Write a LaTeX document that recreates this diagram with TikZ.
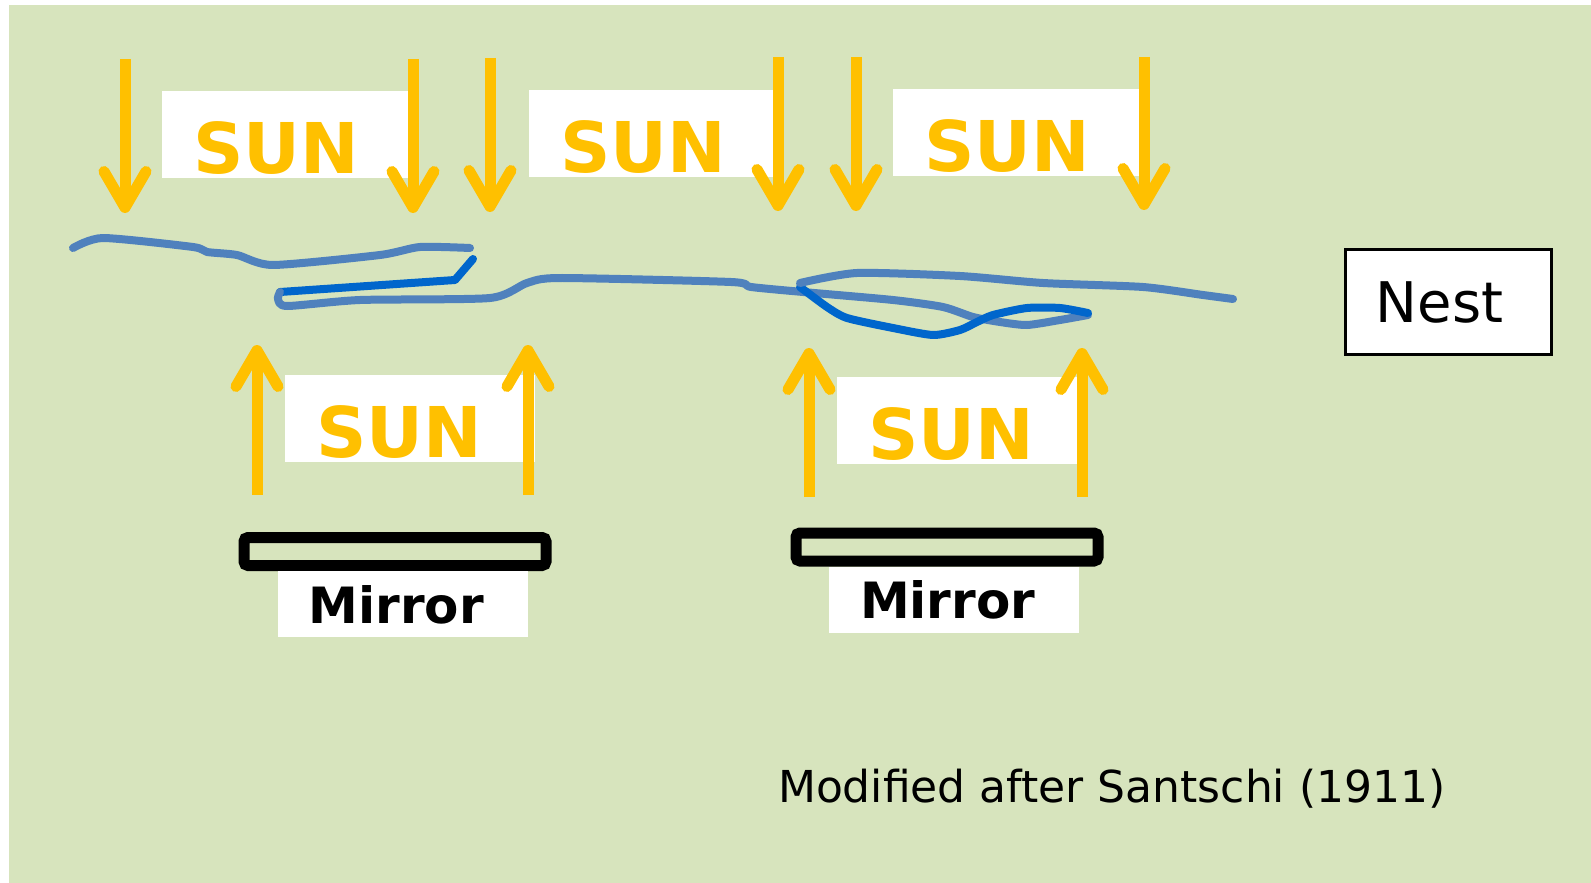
\documentclass[tikz,border=0pt]{standalone}
\usepackage{fontspec}
\setmainfont{DejaVu Sans}
\usetikzlibrary{arrows.meta,positioning}

\definecolor{meadow}{RGB}{215,228,189}
\definecolor{sunorange}{RGB}{255,192,0}
\definecolor{trailblue}{RGB}{79,129,189}
\definecolor{loopblue}{RGB}{0,102,204}

\begin{document}
\begin{tikzpicture}[x=0.5pt,y=-0.5pt,
		sunray/.style={draw=sunorange,line width=5.5pt,
			-{Straight Barb[length=18pt,width=21pt,line cap=round,line join=round]}},
		trail/.style={draw=trailblue,line width=4pt,line cap=round,line join=round},
		detour/.style={trail,draw=loopblue}]
	\tikzstyle{sunbox}=[fill=white,anchor=south west,inner xsep=15.5pt,inner ysep=0pt,
		text width=94pt,align=left,text height=41.5pt,text depth=2pt,text=sunorange,
		font=\fontsize{35}{35}\selectfont\bfseries]
	\tikzstyle{mirror}=[draw=black,line width=5.5pt,rounded corners=2pt,inner sep=0pt,
		minimum width=151pt,minimum height=14pt]
	\tikzstyle{mirrortag}=[fill=white,inner xsep=15.5pt,inner ysep=0pt,text width=94pt,
		align=left,text height=26pt,text depth=7pt,font=\fontsize{25}{25}\selectfont\bfseries]

	\useasboundingbox (0,0) rectangle (1591,883);
	\fill[meadow] (9,5) rectangle (1591,883);

	% sun labels
	\node[sunbox] (sun1) at (162,178) {SUN};
	\node[sunbox] (sun2) at (529,177) {SUN};
	\node[sunbox] (sun3) at (893,176) {SUN};
	\node[sunbox] (sun4) at (285,462) {SUN};
	\node[sunbox] (sun5) at (837,464) {SUN};

	% rays from above
	\coordinate (d1a) at (125,59);   \coordinate (d1b) at (125,213);
	\coordinate (d2a) at (413,59);   \coordinate (d2b) at (413,213);
	\coordinate (d3a) at (490,58);   \coordinate (d3b) at (490,212);
	\coordinate (d4a) at (778,57);   \coordinate (d4b) at (778,211);
	\coordinate (d5a) at (856,57);   \coordinate (d5b) at (856,211);
	\coordinate (d6a) at (1144,57);  \coordinate (d6b) at (1144,210);
	% rays sent back by the mirrors
	\coordinate (u1a) at (257,495);  \coordinate (u1b) at (257,345);
	\coordinate (u2a) at (528,495);  \coordinate (u2b) at (528,345);
	\coordinate (u3a) at (809,497);  \coordinate (u3b) at (809,348);
	\coordinate (u4a) at (1082,497); \coordinate (u4b) at (1082,348);

	\draw[sunray] (d1a) -- (d1b);
	\draw[sunray] (d2a) -- (d2b);
	\draw[sunray] (d3a) -- (d3b);
	\draw[sunray] (d4a) -- (d4b);
	\draw[sunray] (d5a) -- (d5b);
	\draw[sunray] (d6a) -- (d6b);
	\draw[sunray] (u1a) -- (u1b);
	\draw[sunray] (u2a) -- (u2b);
	\draw[sunray] (u3a) -- (u3b);
	\draw[sunray] (u4a) -- (u4b);

	% mirrors
	\node[mirror] (mirror1) at (395,551.5) {};
	\node[mirror] (mirror2) at (947,547) {};
	\node[mirrortag,below=0pt of mirror1,xshift=3.75pt] (tag1) {Mirror};
	\node[mirrortag,below=0pt of mirror2,xshift=3.5pt] (tag2) {Mirror};

	% nest
	\node[draw=black,line width=1.5pt,fill=white,minimum width=103pt,minimum height=52.5pt,
		font=\fontsize{28}{28}\selectfont] (nest) at (1448.5,302) {Nest\hspace*{9pt}};

	% path of the ant
	\draw[trail] plot[smooth,tension=.4] coordinates {(73,248) (103,238) (193,247) (207,252)
		(237,255) (273,265) (380,255) (420,247) (470,248)};
	\draw[detour] (473,259) -- (455,280) -- (280,292);
	\draw[trail] plot[smooth,tension=.4] coordinates {(280,292) (278,299) (287,306) (360,300)
		(490,298) (527,283) (560,278) (731,282) (751,287) (803,292) (893,300) (943,307)
		(973,317) (1000,322) (1027,325) (1060,320) (1088,315)};
	\draw[detour] plot[smooth,tension=.4] coordinates {(1088,313) (1060,308) (1027,308)
		(993,315) (977,322) (960,330) (933,335) (893,328) (847,318) (827,307) (800,287)};
	\draw[trail] plot[smooth,tension=.4] coordinates {(800,283) (857,273) (960,276)
		(1043,283) (1143,287) (1203,295) (1233,299)};

	\node[anchor=base west,font=\fontsize{22}{22}\selectfont] (credit) at (771,802)
		{Modified after Santschi (1911)};
\end{tikzpicture}
\end{document}
